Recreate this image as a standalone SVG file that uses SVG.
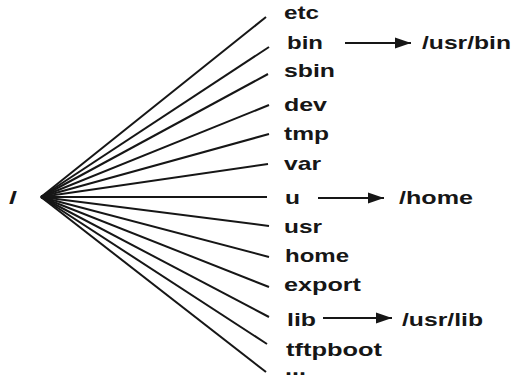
<svg xmlns="http://www.w3.org/2000/svg" width="513" height="380" viewBox="0 0 513 380">
  <style>
    .lbl { font-family: "Liberation Sans", Arial, sans-serif; font-weight: bold; font-size: 19px; fill: #161616; }
    .edge { stroke: #161616; stroke-width: 2; fill: none; }
    .link { stroke: #161616; stroke-width: 2; fill: none; marker-end: url(#head); }
  </style>
  <defs>
    <marker id="head" markerUnits="userSpaceOnUse" markerWidth="16" markerHeight="12" refX="16" refY="6" orient="auto">
      <polygon points="0,0.5 16,6 0,11.5" fill="#161616"/>
    </marker>
  </defs>
  <rect width="513" height="380" fill="#ffffff"/>

  <!-- fan of branches from the root -->
  <g id="connectors">
    <line class="edge" x1="41" y1="197" x2="266" y2="17"/>
    <line class="edge" x1="41" y1="197" x2="269" y2="47"/>
    <line class="edge" x1="41" y1="197" x2="268" y2="74"/>
    <line class="edge" x1="41" y1="197" x2="269" y2="105"/>
    <line class="edge" x1="41" y1="197" x2="269" y2="134"/>
    <line class="edge" x1="41" y1="197" x2="268" y2="164"/>
    <line class="edge" x1="41" y1="197" x2="267" y2="197"/>
    <line class="edge" x1="41" y1="197" x2="269" y2="226"/>
    <line class="edge" x1="41" y1="197" x2="269" y2="257"/>
    <line class="edge" x1="41" y1="197" x2="269" y2="287"/>
    <line class="edge" x1="41" y1="197" x2="269" y2="317"/>
    <line class="edge" x1="41" y1="197" x2="267" y2="344"/>
    <line class="edge" x1="41" y1="197" x2="266" y2="372"/>
    <!-- symlink arrows -->
    <line class="link" x1="345" y1="43" x2="411" y2="43"/>
    <line class="link" x1="318" y1="198" x2="384" y2="198"/>
    <line class="link" x1="323" y1="318" x2="392" y2="318"/>
  </g>

  <g id="root"><text class="lbl" x="9" y="204" textLength="8" lengthAdjust="spacingAndGlyphs">/</text></g>
  <g id="etc"><text class="lbl" x="284" y="19" textLength="35" lengthAdjust="spacingAndGlyphs">etc</text></g>
  <g id="bin"><text class="lbl" x="287" y="49" textLength="36" lengthAdjust="spacingAndGlyphs">bin</text></g>
  <g id="usr-bin"><text class="lbl" x="422" y="49" textLength="89" lengthAdjust="spacingAndGlyphs">/usr/bin</text></g>
  <g id="sbin"><text class="lbl" x="284" y="77" textLength="51" lengthAdjust="spacingAndGlyphs">sbin</text></g>
  <g id="dev"><text class="lbl" x="284" y="111" textLength="43" lengthAdjust="spacingAndGlyphs">dev</text></g>
  <g id="tmp"><text class="lbl" x="284" y="140" textLength="45" lengthAdjust="spacingAndGlyphs">tmp</text></g>
  <g id="var"><text class="lbl" x="284" y="170" textLength="37" lengthAdjust="spacingAndGlyphs">var</text></g>
  <g id="u"><text class="lbl" x="285" y="204" textLength="15" lengthAdjust="spacingAndGlyphs">u</text></g>
  <g id="home-link"><text class="lbl" x="399" y="204" textLength="74" lengthAdjust="spacingAndGlyphs">/home</text></g>
  <g id="usr"><text class="lbl" x="284" y="233" textLength="38" lengthAdjust="spacingAndGlyphs">usr</text></g>
  <g id="home"><text class="lbl" x="285" y="262" textLength="64" lengthAdjust="spacingAndGlyphs">home</text></g>
  <g id="export"><text class="lbl" x="284" y="291" textLength="77" lengthAdjust="spacingAndGlyphs">export</text></g>
  <g id="lib"><text class="lbl" x="287" y="326" textLength="29" lengthAdjust="spacingAndGlyphs">lib</text></g>
  <g id="usr-lib"><text class="lbl" x="402" y="326" textLength="81" lengthAdjust="spacingAndGlyphs">/usr/lib</text></g>
  <g id="tftpboot"><text class="lbl" x="286" y="356" textLength="96" lengthAdjust="spacingAndGlyphs">tftpboot</text></g>
  <g id="more"><text class="lbl" x="285" y="375" font-size="16" textLength="21" lengthAdjust="spacingAndGlyphs">...</text></g>
</svg>
